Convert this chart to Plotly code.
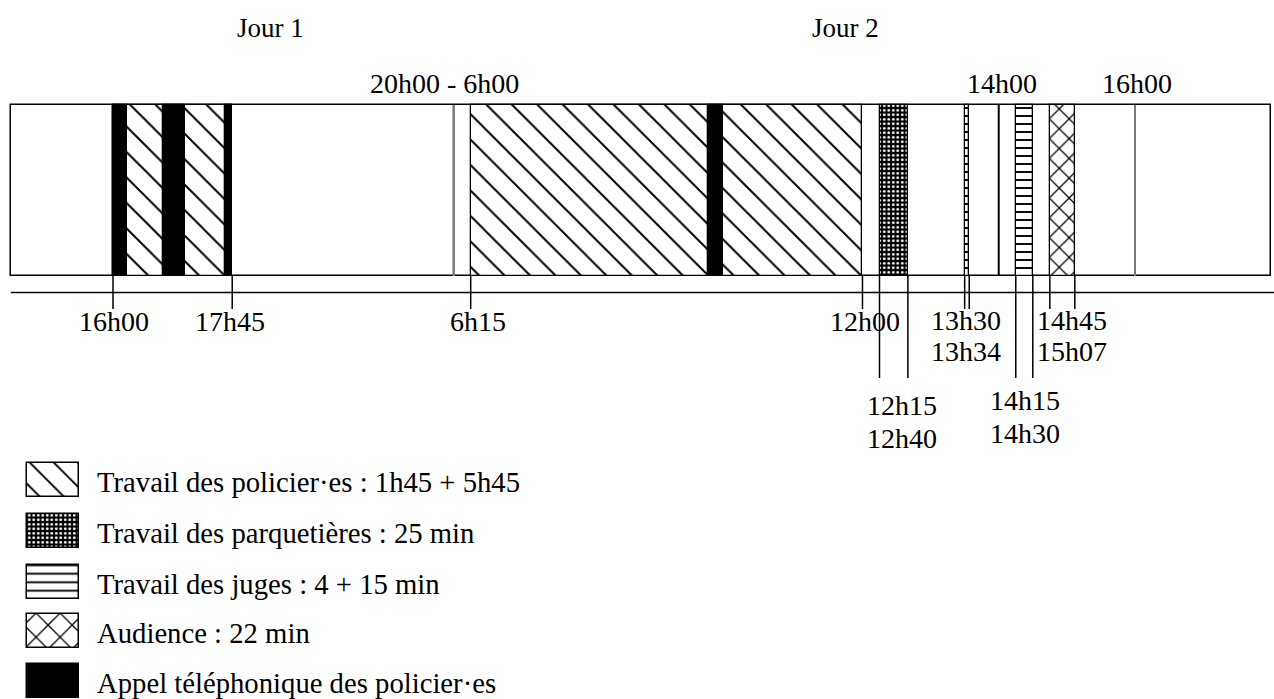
import plotly.graph_objects as go

# ---------------- data ----------------
# Schematic timeline (night between day 1 and day 2 is collapsed to a single mark)
timeline_start = (1, "14h30")
timeline_end = (2, "18h00")
night_mark = (2, "6h00")

police_day = [1, 2]
police_start = ["16h00", "6h15"]
police_end = ["17h45", "12h00"]

call_day = [1, 1, 1, 2]
call_start = ["16h00", "16h44", "17h39", "9h44"]
call_end = ["16h12", "17h03", "17h45", "9h57"]

parquet_day = [2]
parquet_start = ["12h15"]
parquet_end = ["12h40"]

juges_day = [2, 2]
juges_start = ["13h30", "14h15"]
juges_end = ["13h34", "14h30"]

audience_day = [2]
audience_start = ["14h45"]
audience_end = ["15h07"]

mark_black = [(2, "14h00")]
mark_gray = [(2, "16h00")]

tick_short = [(1, "16h00"), (1, "17h45"), (2, "6h15"), (2, "12h00"),
              (2, "13h30"), (2, "13h34"), (2, "14h45"), (2, "15h07")]
tick_long = [(2, "12h15"), (2, "12h40"), (2, "14h15"), (2, "14h30")]

day_labels = ["Jour 1", "Jour 2"]
legend_labels = [
    "Travail des policier·es : 1h45 + 5h45",
    "Travail des parquetières : 25 min",
    "Travail des juges : 4 + 15 min",
    "Audience : 22 min",
    "Appel téléphonique des policier·es",
]

# ---------------- helpers / styles ----------------
DAY_OFFSET = {1: -960, 2: -60}   # minutes on the schematic axis


def pos(day, hm):
    h, m = hm.split("h")
    return int(h) * 60 + int(m) + DAY_OFFSET[day]


FONT = "Liberation Serif"
K = 1022 / 900.0
X_RANGE = [-113 / K, (1274 - 113) / K]
BAR_TOP, BAR_BOT = 105, 276
BAR_Y = (BAR_TOP + BAR_BOT) / 2
BAR_H = BAR_BOT - BAR_TOP
BASE_Y = 292.5


def pat(shape, size, solidity, fg="black", bg="white"):
    return dict(shape=shape, size=size, solidity=solidity, fgcolor=fg, bgcolor=bg,
                fgopacity=1, fillmode="replace")


pat_police = pat("\\", 18, 0.11)
pat_parquet = pat(".", 4.5, 0.3, fg="white", bg="black")
pat_juges = pat("-", 8, 0.24)
pat_aud = pat("x", 14, 0.17)

fig = go.Figure()


def add_segments(days, starts, ends, color, pattern=None, lw=1.3):
    b = [pos(d, s) for d, s in zip(days, starts)]
    w = [pos(d, e) - pos(d, s) for d, s, e in zip(days, starts, ends)]
    marker = dict(color=color, opacity=1, line=dict(color="black", width=lw))
    if pattern:
        marker["pattern"] = pattern
    fig.add_trace(go.Bar(orientation="h", y=[BAR_Y] * len(b), base=b, x=w,
                         width=BAR_H, marker=marker, hoverinfo="skip",
                         showlegend=False))


# outer box
fig.add_trace(go.Bar(orientation="h", y=[BAR_Y],
                     base=[pos(*timeline_start)],
                     x=[pos(*timeline_end) - pos(*timeline_start)],
                     width=BAR_H, marker=dict(color="white", line=dict(color="black", width=1.5)),
                     hoverinfo="skip", showlegend=False))

add_segments(police_day, police_start, police_end, "white", pat_police)
add_segments(call_day, call_start, call_end, "black")
add_segments(parquet_day, parquet_start, parquet_end, "black", pat_parquet)
add_segments(juges_day, juges_start, juges_end, "white", pat_juges)
add_segments(audience_day, audience_start, audience_end, "white", pat_aud)


def vlines(points, y0, y1, color, width):
    xs, ys = [], []
    for d, t in points:
        xs += [pos(d, t), pos(d, t), None]
        ys += [y0, y1, None]
    fig.add_trace(go.Scatter(x=xs, y=ys, mode="lines",
                             line=dict(color=color, width=width),
                             hoverinfo="skip", showlegend=False))


vlines([night_mark], BAR_TOP, BAR_BOT, "#7a7a7a", 2.5)
vlines(mark_gray, BAR_TOP, BAR_BOT, "#7a7a7a", 2)
vlines(mark_black, BAR_TOP, BAR_BOT, "black", 2)
vlines(tick_short, BAR_BOT, 309, "black", 1.5)
vlines(tick_long, BAR_BOT, 378, "black", 1.5)

# baseline
fig.add_trace(go.Scatter(x=[pos(*timeline_start), X_RANGE[1]], y=[BASE_Y, BASE_Y],
                         mode="lines", line=dict(color="black", width=1.5),
                         hoverinfo="skip", showlegend=False))

ann = []


def label(text, d, t, y, xshift=0, size=28):
    ann.append(dict(text=text, x=pos(d, t), y=y, xref="x", yref="y",
                    xshift=xshift, showarrow=False, xanchor="center", yanchor="middle",
                    font=dict(family=FONT, size=size, color="black")))


# top labels
ann.append(dict(text=day_labels[0], x=235 / 1274, y=28, xref="paper", yref="y",
                showarrow=False, font=dict(family=FONT, size=27, color="black")))
ann.append(dict(text=day_labels[1], x=845 / 1274, y=28, xref="paper", yref="y",
                showarrow=False, font=dict(family=FONT, size=27, color="black")))
label("20h00 - 6h00", *night_mark, 83, xshift=-9)
label("14h00", 2, "14h00", 83, xshift=3)
label("16h00", 2, "16h00", 83, xshift=2)

# bottom labels
label("16h00", 1, "16h00", 321, xshift=1)
label("17h45", 1, "17h45", 321, xshift=-2)
label("6h15", 2, "6h15", 321, xshift=7)
label("12h00", 2, "12h00", 321, xshift=3)
label("13h30", 2, "13h32", 320, xshift=-1)
label("13h34", 2, "13h32", 351, xshift=-1)
label("14h45", 2, "14h45", 320, xshift=22)
label("15h07", 2, "14h45", 351, xshift=22)
label("12h15", 2, "12h15", 405, xshift=22)
label("12h40", 2, "12h15", 438, xshift=22)
label("14h15", 2, "14h22", 400, xshift=1)
label("14h30", 2, "14h22", 433, xshift=1)

# ---------------- legend (custom) ----------------
LEG_X0, LEG_W, LEG_H = 27, 52, 34
leg_y = [480, 531, 582, 631, 681]
leg_pats = [pat("\\", 17, 0.11),
            pat(".", 4.5, 0.3, fg="white", bg="black"),
            pat("-", 8.5, 0.22),
            pat("x", 17, 0.15),
            None]
leg_colors = ["white", "black", "white", "white", "black"]
for yy, p, c, txt in zip(leg_y, leg_pats, leg_colors, legend_labels):
    marker = dict(color=c, opacity=1, line=dict(color="black", width=1.5))
    if p:
        marker["pattern"] = p
    fig.add_trace(go.Bar(orientation="h", y=[yy], base=[LEG_X0], x=[LEG_W], width=LEG_H,
                         marker=marker, xaxis="x2", hoverinfo="skip", showlegend=False))
    ann.append(dict(text=txt, x=95, y=yy + 2, xref="x2", yref="y", showarrow=False,
                    xanchor="left", yanchor="middle",
                    font=dict(family=FONT, size=28.7, color="black")))

fig.update_layout(
    width=1274, height=699, margin=dict(l=0, r=0, t=0, b=0),
    paper_bgcolor="white", plot_bgcolor="white",
    barmode="overlay", bargap=0,
    xaxis=dict(range=X_RANGE, visible=False, fixedrange=True),
    xaxis2=dict(range=[0, 1274], visible=False, overlaying="x", fixedrange=True),
    yaxis=dict(range=[699, 0], visible=False, fixedrange=True),
    annotations=ann,
    showlegend=False,
)

fig.write_html("out.html", config={"displayModeBar": False},
               post_script="document.body.style.margin='0';document.body.style.overflow='hidden';")
